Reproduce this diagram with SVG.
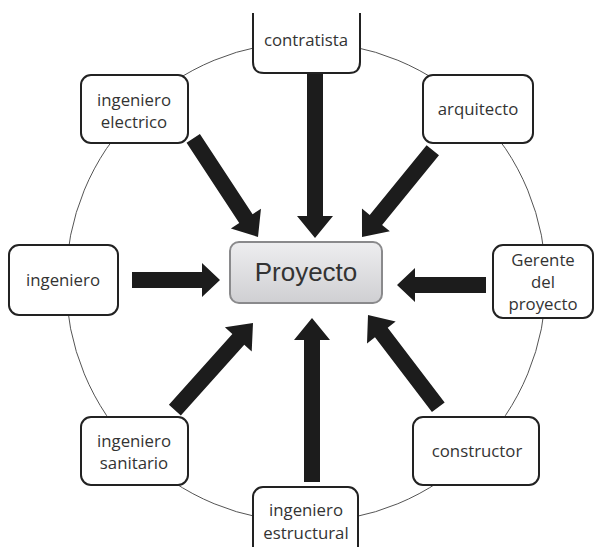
<svg xmlns="http://www.w3.org/2000/svg" width="595" height="547" viewBox="0 0 595 547">
<defs>
<linearGradient id="g" x1="0" y1="0" x2="0" y2="1">
<stop offset="0" stop-color="#eeeef0"/>
<stop offset="1" stop-color="#cfcfd2"/>
</linearGradient>
<style>
.n{fill:#fff;stroke:#222;stroke-width:2}
.t{font-family:"Open Sans","Liberation Sans",sans-serif;font-size:16.8px;fill:#333;text-anchor:middle}
.a{fill:#1c1c1c}
</style>
</defs>
<rect width="595" height="547" fill="#fff"/>
<circle cx="306" cy="282" r="240" fill="none" stroke="#555" stroke-width="1"/>
<g id="connectors">
<polygon class="a" points="-165,-8 -22,-8 -22,-18 0,0 -22,18 -22,8 -165,8" transform="translate(315,238) rotate(90)"/>
<polygon class="a" points="-112,-8 -22,-8 -22,-18 0,0 -22,18 -22,8 -112,8" transform="translate(362,237) rotate(129.2)"/>
<polygon class="a" points="-118,-8 -22,-8 -22,-18 0,0 -22,18 -22,8 -118,8" transform="translate(258,237) rotate(56.7)"/>
<polygon class="a" points="-88,-8 -18,-8 -18,-17 0,0 -18,17 -18,8 -88,8" transform="translate(220,280)"/>
<polygon class="a" points="-89,-8 -18,-8 -18,-17 0,0 -18,17 -18,8 -89,8" transform="translate(397,285) rotate(180)"/>
<polygon class="a" points="-117,-8 -22,-8 -22,-18 0,0 -22,18 -22,8 -117,8" transform="translate(253,323) rotate(-48.1)"/>
<polygon class="a" points="-164,-8 -22,-8 -22,-18 0,0 -22,18 -22,8 -164,8" transform="translate(312,318) rotate(-90)"/>
<polygon class="a" points="-116,-8 -22,-8 -22,-18 0,0 -22,18 -22,8 -116,8" transform="translate(368,315) rotate(-127.3)"/>
</g>
<g id="proyecto">
<rect x="230" y="242" width="152" height="61" rx="9" fill="url(#g)" stroke="#8a8a8c" stroke-width="2"/>
<text x="306" y="281" font-family="Liberation Sans, Arial, sans-serif" font-size="26" fill="#333" text-anchor="middle">Proyecto</text>
</g>
<g id="contratista">
<path class="n" d="M253,13 V62 Q253,73 264,73 H349 Q360,73 360,62 V13"/>
<text class="t" x="306" y="46">contratista</text>
</g>
<g id="arquitecto">
<rect class="n" x="423" y="75" width="110" height="68" rx="10"/>
<text class="t" x="478" y="115">arquitecto</text>
</g>
<g id="electrico">
<rect class="n" x="81" y="75" width="107" height="68" rx="10"/>
<text class="t" x="134" y="106">ingeniero</text>
<text class="t" x="134" y="128">electrico</text>
</g>
<g id="ingeniero">
<rect class="n" x="9" y="245" width="109" height="70" rx="10"/>
<text class="t" x="63" y="286">ingeniero</text>
</g>
<g id="gerente">
<rect class="n" x="493" y="245" width="100" height="73" rx="10"/>
<text class="t" x="543" y="266">Gerente</text>
<text class="t" x="543" y="288">del</text>
<text class="t" x="543" y="310">proyecto</text>
</g>
<g id="sanitario">
<rect class="n" x="81" y="417" width="107" height="68" rx="10"/>
<text class="t" x="134" y="447">ingeniero</text>
<text class="t" x="134" y="469">sanitario</text>
</g>
<g id="constructor">
<rect class="n" x="413" y="417" width="126" height="68" rx="10"/>
<text class="t" x="477" y="457">constructor</text>
</g>
<g id="estructural">
<rect class="n" x="253" y="487" width="105" height="80" rx="10"/>
<text class="t" x="306" y="516">ingeniero</text>
<text class="t" x="306" y="539">estructural</text>
</g>
</svg>
